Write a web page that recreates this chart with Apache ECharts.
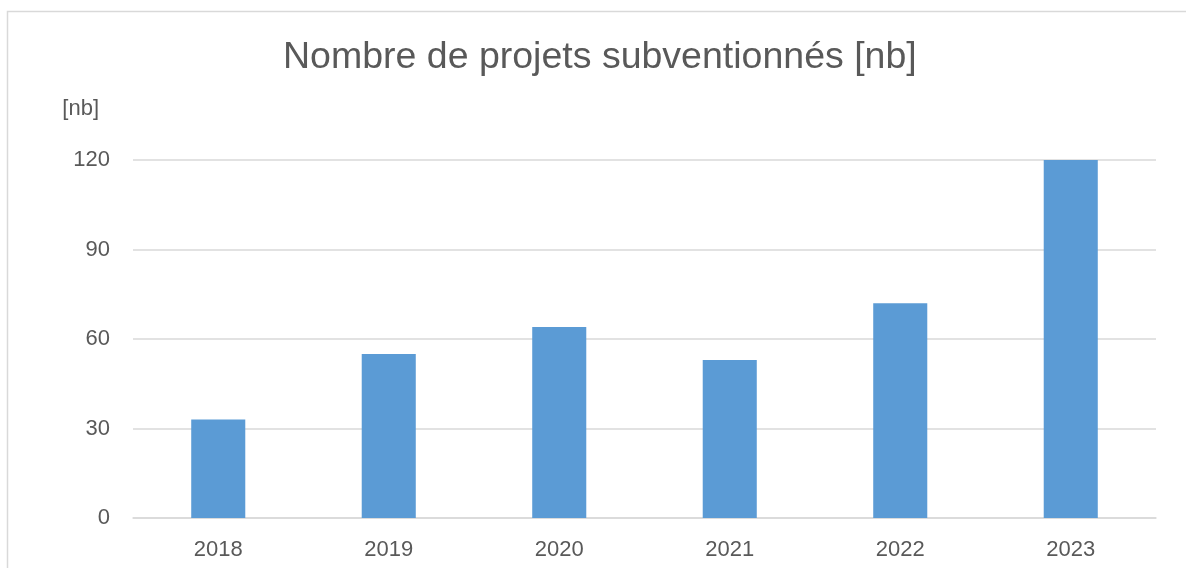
<!DOCTYPE html>
<html><head><meta charset="utf-8">
<script src="https://cdn.jsdelivr.net/npm/echarts@6/dist/echarts.min.js"></script>
<style>html,body{margin:0;padding:0;background:#fff}#c{width:1186px;height:568px}</style>
</head><body><div id="c"></div>
<script>
const categories = ['2018','2019','2020','2021','2022','2023'];
const values = [33, 55, 64, 53, 72, 120];
const yTicks = [0, 30, 60, 90, 120];
const titleText = 'Nombre de projets subventionnés [nb]';
const yName = '[nb]';

const chart = echarts.init(document.getElementById('c'), null, {renderer:'canvas'});
chart.setOption({
  animation: false,
  textStyle: {fontFamily: 'Liberation Sans, Arial, sans-serif'},
  graphic: [{
    type: 'rect', shape: {x: 7.5, y: 11.5, width: 1200, height: 600},
    style: {fill: 'none', stroke: '#d9d9d9', lineWidth: 1.5}, silent: true
  }],
  title: {
    text: titleText, left: 278, top: 34,
    textStyle: {fontSize: 37.5, fontWeight: 'normal', color: '#595959', fontFamily: 'Liberation Sans, Arial, sans-serif'}
  },
  grid: {left: 133, right: 30, top: 160, bottom: 50, containLabel: false},
  xAxis: {
    type: 'category', data: categories,
    axisLine: {show: true, lineStyle: {color: '#d9d9d9', width: 1.5}},
    axisTick: {show: false},
    axisLabel: {fontSize: 22, color: '#595959', margin: 21}
  },
  yAxis: {
    type: 'value', min: yTicks[0], max: yTicks[yTicks.length-1], interval: 30,
    name: yName, nameLocation: 'end', nameGap: 40,
    nameTextStyle: {fontSize: 22, color: '#595959', align: 'right', padding: [0, 34, 0, 0]},
    axisLine: {show: false}, axisTick: {show: false},
    axisLabel: {fontSize: 22, color: '#595959', margin: 23},
    splitLine: {lineStyle: {color: '#d9d9d9', width: 1.5}}
  },
  series: [{
    type: 'bar', data: values, barWidth: '31.7%',
    itemStyle: {color: '#5b9bd5'}
  }]
});
</script></body></html>
